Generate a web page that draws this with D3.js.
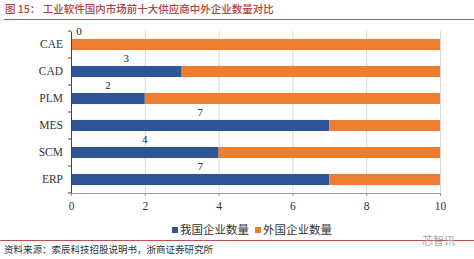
<!DOCTYPE html>
<html lang="zh">
  <head>
    <meta charset="UTF-8" />
    <script src="https://d3js.org/d3.v7.min.js"></script>
    <style>
      body { margin: 0; background: white; }
      svg { display: block; }
    </style>
  </head>
  <body>
    <script>
      // ---------------- data ----------------
      const categories = ["CAE", "CAD", "PLM", "MES", "SCM", "ERP"];
      const domestic = [0, 3, 2, 7, 4, 7];
      const foreign = [10, 7, 8, 3, 6, 3];
      const xTicks = [0, 2, 4, 6, 8, 10];
      const seriesNames = ["我国企业数量", "外国企业数量"];
      const titleText = "图 15：  工业软件国内市场前十大供应商中外企业数量对比";
      const sourceText = "资料来源：索辰科技招股说明书，浙商证券研究所";

      const W = 474, H = 259;
      const colors = ["#2f5597", "#ed7d31"];
      const serif = "'Liberation Serif', 'Times New Roman', serif";
      const cjk = "'Noto Sans CJK SC', sans-serif";

      const svg = d3.select("body").append("svg").attr("width", W).attr("height", H);

      // title + red rule
      svg.append("text").attr("x", 5).attr("y", 13)
        .attr("font-family", cjk).attr("font-size", 10.5).attr("font-weight", 500).attr("fill", "#b0413e")
        .text(titleText);
      svg.append("line").attr("x1", 4).attr("x2", W).attr("y1", 19.5).attr("y2", 19.5)
        .attr("stroke", "#c0504d").attr("stroke-width", 1);

      // scales
      const x = d3.scaleLinear().domain([0, 10]).range([71, 440]);
      const y = d3.scaleBand().domain(categories).range([31, 193]).paddingInner(0.59).paddingOuter(0.295);

      // gridlines
      svg.append("g").selectAll("line").data(xTicks.slice(1)).join("line")
        .attr("x1", d => x(d) + 0.5).attr("x2", d => x(d) + 0.5)
        .attr("y1", 31).attr("y2", 193)
        .attr("stroke", "#d9d9d9");

      // bars
      const rows = categories.map((c, i) => ({ c, a: domestic[i], b: foreign[i] }));
      const g = svg.append("g");
      g.selectAll(".dom").data(rows).join("rect")
        .attr("x", x(0)).attr("y", d => y(d.c))
        .attr("width", d => x(d.a) - x(0)).attr("height", y.bandwidth())
        .attr("fill", colors[0]);
      g.selectAll(".for").data(rows).join("rect")
        .attr("x", d => x(d.a)).attr("y", d => y(d.c))
        .attr("width", d => x(d.a + d.b) - x(d.a)).attr("height", y.bandwidth())
        .attr("fill", colors[1]);

      // value labels above domestic segment
      g.selectAll(".lbl").data(rows).join("text")
        .attr("x", d => d.a === 0 ? x(0) + 8 : x(d.a / 2))
        .attr("y", d => y(d.c) - 4)
        .attr("text-anchor", "middle")
        .attr("font-family", serif).attr("font-size", 11).attr("fill", "#222")
        .text(d => d.a);

      // axes
      const yAxis = svg.append("g").attr("transform", "translate(71,0)")
        .call(d3.axisLeft(y).tickSize(0).tickPadding(8));
      yAxis.select(".domain").attr("stroke", "#444");
      yAxis.selectAll("text").attr("font-family", serif).attr("font-size", 11.5).attr("fill", "#333");
      // band boundary ticks
      svg.append("g").selectAll("line")
        .data(d3.range(categories.length + 1)).join("line")
        .attr("x1", 68).attr("x2", 71)
        .attr("y1", i => 31 + i * 27).attr("y2", i => 31 + i * 27)
        .attr("stroke", "#444");

      const xAxis = svg.append("g").attr("transform", "translate(0,193)")
        .call(d3.axisBottom(x).tickValues(xTicks).tickSize(3).tickPadding(6).tickSizeOuter(0));
      xAxis.select(".domain").attr("stroke", "#999");
      xAxis.selectAll(".tick line").attr("stroke", "#999");
      xAxis.selectAll("text").attr("font-family", serif).attr("font-size", 11.5).attr("fill", "#333");

      // legend
      const legend = svg.append("g");
      const legX = [172, 255];
      seriesNames.forEach((s, i) => {
        legend.append("rect").attr("x", legX[i]).attr("y", 227).attr("width", 6).attr("height", 6).attr("fill", colors[i]);
        legend.append("text").attr("x", legX[i] + 8).attr("y", 234)
          .attr("font-family", cjk).attr("font-size", 11.5).attr("fill", "#333").text(s);
      });

      // bottom rule, source, watermark
      svg.append("line").attr("x1", 0).attr("x2", W).attr("y1", 240.5).attr("y2", 240.5)
        .attr("stroke", "#c0504d").attr("stroke-width", 1);
      svg.append("text").attr("x", 4).attr("y", 253)
        .attr("font-family", cjk).attr("font-size", 9.5).attr("fill", "#333")
        .text(sourceText);
      svg.append("text").attr("x", 422).attr("y", 245)
        .attr("font-family", cjk).attr("font-size", 11).attr("fill", "#aaa")
        .text("芯智讯");
    </script>
  </body>
</html>
